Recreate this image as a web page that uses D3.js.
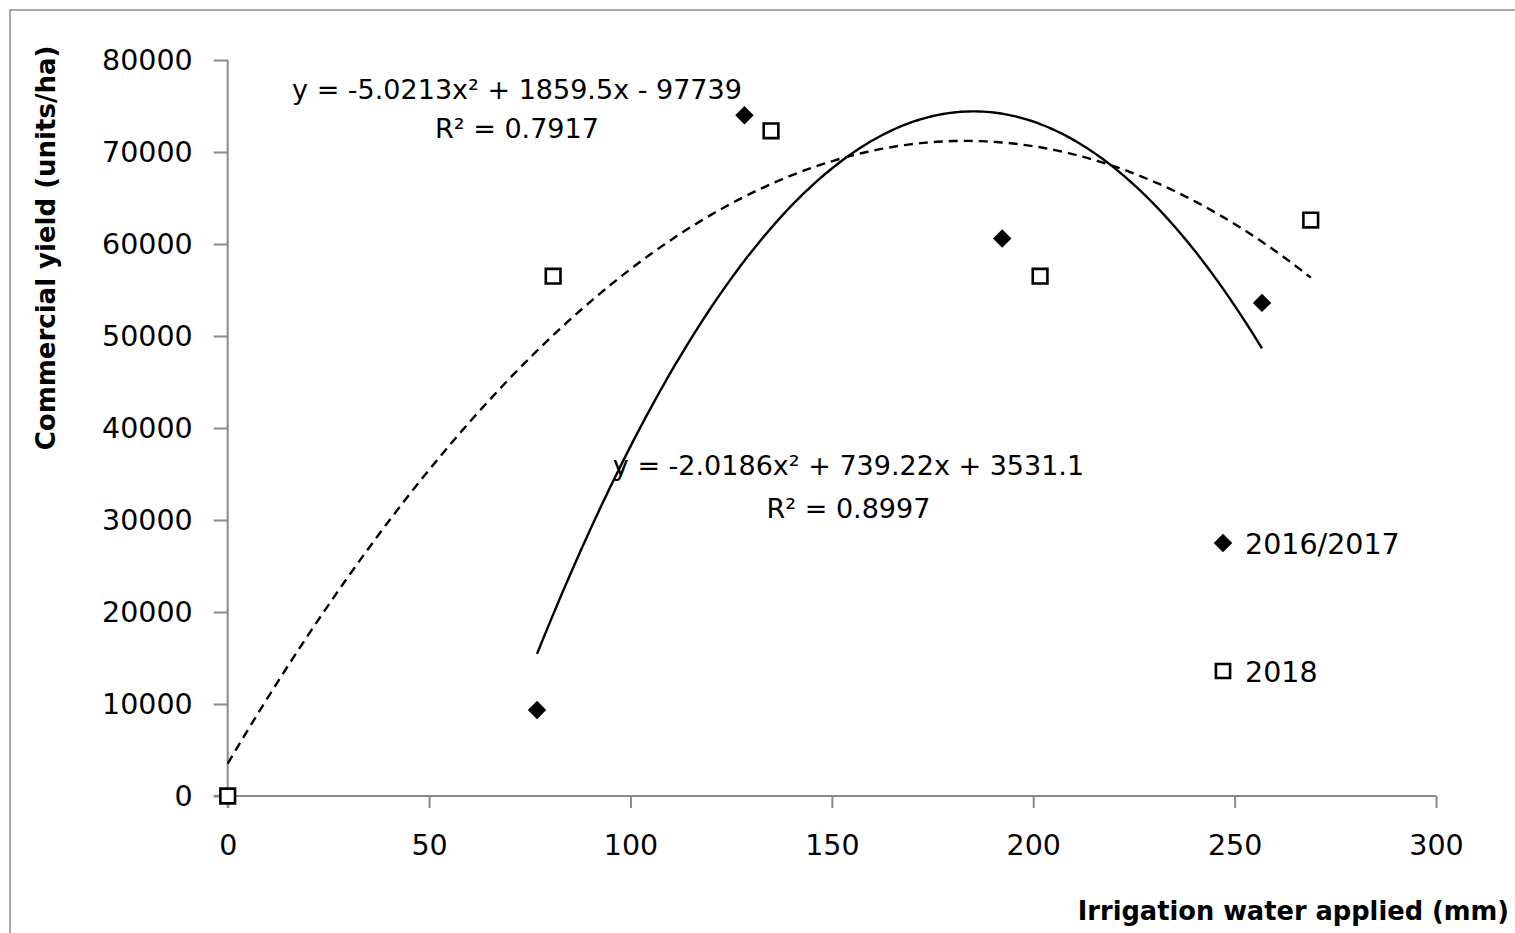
<!DOCTYPE html>
<html>
<head>
<meta charset="utf-8">
<script src="https://cdn.jsdelivr.net/npm/d3@7"></script>
<style>
  body { margin: 0; background: #fff; }
  svg { display: block; font-family: "DejaVu Sans", sans-serif; }
</style>
</head>
<body>
<div id="chart"></div>
<script>
// data
const season1617 = [ // 2016/2017 (filled diamonds)
  {x: 76.8, y: 9350},
  {x: 128.3, y: 74000},
  {x: 192.3, y: 60600},
  {x: 256.8, y: 53600}
];
const season2018 = [ // 2018 (open squares)
  {x: 0, y: 0},
  {x: 80.8, y: 56500},
  {x: 134.9, y: 72300},
  {x: 201.7, y: 56500},
  {x: 268.9, y: 62600}
];
// polynomial trendlines, [a, b, c] for a*x^2 + b*x + c
const trend1617 = [-5.0213, 1859.5, -97739];
const trend2018 = [-2.0186, 739.22, 3531.1];
const eqLabels = [
  ["y = -5.0213x\u00b2 + 1859.5x - 97739", "R\u00b2 = 0.7917"],
  ["y = -2.0186x\u00b2 + 739.22x + 3531.1", "R\u00b2 = 0.8997"]
];
const xTicks = [0, 50, 100, 150, 200, 250, 300];
const yTicks = [0, 10000, 20000, 30000, 40000, 50000, 60000, 70000, 80000];
const legendNames = ["2016/2017", "2018"];

const W = 1515, H = 933;
const axisGrey = "#898989";

const svg = d3.select("#chart")
  .append("svg")
    .attr("width", W)
    .attr("height", H);

// outer chart frame
svg.append("rect")
  .attr("x", 10).attr("y", 10)
  .attr("width", W + 20).attr("height", H + 20)
  .attr("fill", "none")
  .attr("stroke", axisGrey)
  .attr("stroke-width", 1.5);

const x = d3.scaleLinear().domain([0, 300]).range([227.7, 1436]);
const y = d3.scaleLinear().domain([0, 80000]).range([796, 60]);

// Y axis
const gy = svg.append("g")
  .attr("transform", `translate(${x(0)},0)`)
  .call(d3.axisLeft(y).tickValues(yTicks).tickFormat(d3.format("d"))
    .tickSize(14).tickSizeOuter(0).tickPadding(21));
// X axis
const gx = svg.append("g")
  .attr("transform", `translate(0,${y(0)})`)
  .call(d3.axisBottom(x).tickValues(xTicks).tickFormat(d3.format("d"))
    .tickSize(12).tickSizeOuter(0).tickPadding(27));

[gx, gy].forEach(g => {
  g.select(".domain").attr("stroke", axisGrey).attr("stroke-width", 2);
  g.selectAll(".tick line").attr("stroke", axisGrey).attr("stroke-width", 2);
  g.selectAll(".tick text")
    .attr("fill", "#000")
    .style("font-size", "28.5px")
    .style("font-family", "DejaVu Sans, sans-serif");
});

// extend the x axis line under the y tick at 0, and y axis below x axis
gx.select(".domain").attr("d", `M${x(0) - 14},0H${x(300)}`);
gy.select(".domain").attr("d", `M0,${y(80000)}V${y(0) + 12}`);

// trendlines
const poly = c => v => c[0] * v * v + c[1] * v + c[2];
const line = d3.line().x(d => x(d[0])).y(d => y(d[1]));
function trendPoints(coef, data) {
  const ext = d3.extent(data, d => d.x);
  const f = poly(coef);
  return d3.range(0, 201).map(i => {
    const v = ext[0] + (ext[1] - ext[0]) * i / 200;
    return [v, f(v)];
  });
}

svg.append("path")
  .datum(trendPoints(trend2018, season2018))
  .attr("d", line)
  .attr("fill", "none")
  .attr("stroke", "#000")
  .attr("stroke-width", 2.4)
  .attr("stroke-dasharray", "9,6");

svg.append("path")
  .datum(trendPoints(trend1617, season1617))
  .attr("d", line)
  .attr("fill", "none")
  .attr("stroke", "#000")
  .attr("stroke-width", 2.4);

// markers
const diamond = d3.symbol().type(d3.symbolSquare).size(170);
const square = d3.symbol().type(d3.symbolSquare).size(215);

svg.append("g")
  .selectAll("path")
  .data(season1617)
  .enter()
  .append("path")
    .attr("d", diamond)
    .attr("transform", d => `translate(${x(d.x)},${y(d.y)}) rotate(45)`)
    .attr("fill", "#000");

svg.append("g")
  .selectAll("path")
  .data(season2018)
  .enter()
  .append("path")
    .attr("d", square)
    .attr("transform", d => `translate(${x(d.x)},${y(d.y)})`)
    .attr("fill", "#fff")
    .attr("stroke", "#000")
    .attr("stroke-width", 2.6);

// equation labels
const eqPos = [[517, 99, 138], [848.5, 475, 518]];
eqLabels.forEach((lbl, i) => {
  const p = eqPos[i];
  lbl.forEach((t, j) => {
    svg.append("text")
      .attr("x", p[0])
      .attr("y", p[1 + j])
      .attr("text-anchor", "middle")
      .style("font-size", "27px")
      .text(t);
  });
});

// legend
const legend = svg.append("g");
legendNames.forEach((name, i) => {
  const ly = [543, 671][i];
  legend.append("path")
    .attr("d", i === 0 ? diamond : d3.symbol().type(d3.symbolSquare).size(200))
    .attr("transform", `translate(1223,${ly})` + (i === 0 ? " rotate(45)" : ""))
    .attr("fill", i === 0 ? "#000" : "#fff")
    .attr("stroke", i === 0 ? "none" : "#000")
    .attr("stroke-width", 2.6);
  legend.append("text")
    .attr("x", 1245)
    .attr("y", ly + 10.5)
    .style("font-size", "28.5px")
    .text(name);
});

// axis titles
svg.append("text")
  .attr("x", 1509)
  .attr("y", 920)
  .attr("text-anchor", "end")
  .style("font-size", "25.7px")
  .style("font-weight", "bold")
  .text("Irrigation water applied (mm)");

svg.append("text")
  .attr("transform", "translate(55,248) rotate(-90)")
  .attr("text-anchor", "middle")
  .style("font-size", "26px")
  .style("font-weight", "bold")
  .text("Commercial yield (units/ha)");
</script>
</body>
</html>
